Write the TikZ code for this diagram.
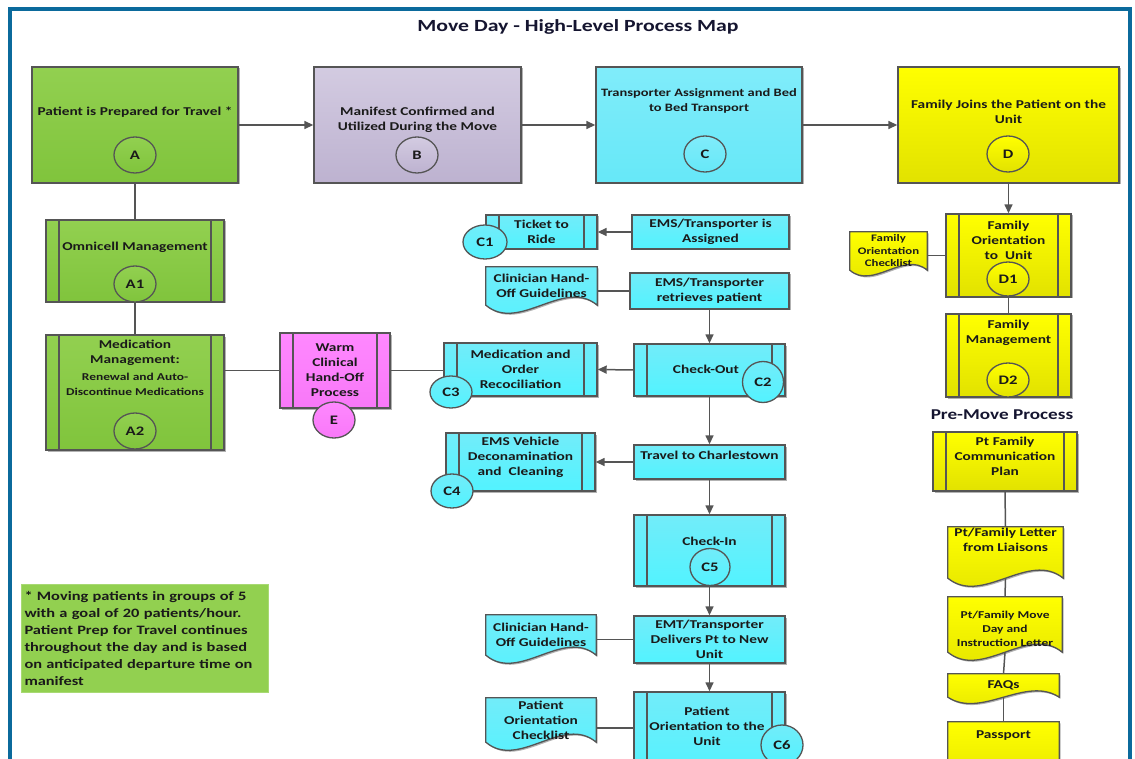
\documentclass[tikz,border=0pt]{standalone}
\usepackage{fontspec}
\setmainfont{Carlito}[FakeStretch=1.28]
\usetikzlibrary{shapes.geometric,arrows.meta,calc,shadows}
\pgfdeclarelayer{bg}
\pgfsetlayers{bg,main}
\definecolor{frameblue}{HTML}{0B6A9C}
\definecolor{lnk}{HTML}{555555}
\definecolor{txt}{HTML}{1A1A1A}
\definecolor{ttl}{HTML}{151530}
\definecolor{grn}{HTML}{92D050}
\definecolor{grnd}{HTML}{80C43C}
\definecolor{lav}{HTML}{D3CBE1}
\definecolor{lavd}{HTML}{BDB2D0}
\definecolor{cyl}{HTML}{80ECFA}
\definecolor{cyld}{HTML}{66E8F8}
\definecolor{cys}{HTML}{72ECF9}
\definecolor{cysd}{HTML}{52F3FF}
\definecolor{yel}{HTML}{FFFF00}
\definecolor{yeld}{HTML}{E2E200}
\definecolor{pnk}{HTML}{FF88FF}
\definecolor{pnkd}{HTML}{F878F8}
\newcommand\mainf{\fontsize{12}{15}\selectfont\bfseries}
\newcommand\smallf{\fontsize{10.5}{15}\selectfont\bfseries}
\newcommand\tinyf{\fontsize{10}{12.5}\selectfont\bfseries}
\newcommand\circf{\fontsize{13}{15}\selectfont\bfseries}
\tikzset{
 shd/.style={drop shadow={shadow xshift=1.5pt,shadow yshift=-1.5pt,opacity=0.3,fill=black}},
 ln/.style={draw=lnk,line width=1.5pt},
 arr/.style={ln,-{Triangle[length=9pt,width=8pt]}},
 bx/.style={draw=lnk,line width=1.4pt,rectangle,inner sep=1pt,align=center,text=txt,font=\mainf,shd},
 wh/.style 2 args={minimum width=#1pt,minimum height=#2pt},
 pp/.style={path picture={\draw[lnk,line width=1.2pt]
   ([xshift=13pt]path picture bounding box.north west) -- ([xshift=13pt]path picture bounding box.south west)
   ([xshift=-13pt]path picture bounding box.north east) -- ([xshift=-13pt]path picture bounding box.south east);}},
 circ/.style={ellipse,draw=lnk,line width=1.3pt,inner sep=0pt,font=\circf,text=txt},
 tx/.style={align=center,text=txt,font=\mainf,inner sep=0pt},
 doc/.style={rectangle,inner sep=0pt,align=center,text=txt,font=\mainf},
 fgrn/.style={top color=grn,bottom color=grnd},
 flav/.style={top color=lav,bottom color=lavd},
 fcyl/.style={top color=cyl,bottom color=cyld},
 fcys/.style={top color=cys,bottom color=cysd},
 fyel/.style={top color=yel,bottom color=yeld},
 fpnk/.style={top color=pnk,bottom color=pnkd},
}
\newcommand\docshape[3]{%
 \begin{pgfonlayer}{bg}
 \draw[draw=lnk,line width=1.3pt,#2,shd] (#1.north west) -- (#1.north east) -- (#1.south east)
   .. controls ($(#1.south east)!0.3!(#1.south west)+(0,-#3)$) and ($(#1.south east)!0.7!(#1.south west)+(0,#3)$) .. (#1.south west) -- cycle;
 \end{pgfonlayer}}
\begin{document}
\begin{tikzpicture}[x=1pt,y=-1pt]
\begin{pgfonlayer}{bg}
\fill[white] (0,0) rectangle (1135,759);
\end{pgfonlayer}
\clip (0,0) rectangle (1135,759);
\draw[frameblue,line width=4pt] (10,9) rectangle (1130,820);
\node[font=\fontsize{17}{20}\selectfont\bfseries,text=ttl] (title) at (578,27) {Move Day - High-Level Process Map};

% main row
\node[bx,fgrn,wh={206}{116}] (A) at (135,125) {};
\node[tx] (At) at (135,112) {Patient is Prepared for Travel *};
\node[bx,flav,wh={207}{116}] (B) at (417.5,125) {};
\node[tx] (Bt) at (417.5,119.5) {Manifest Confirmed and\\Utilized During the Move};
\node[bx,fcyl,wh={206}{116}] (C) at (699,125) {};
\node[tx,font=\fontsize{11.3}{15}\selectfont\bfseries] (Ct) at (699,100.5) {Transporter Assignment and Bed\\to Bed Transport};
\node[bx,fyel,wh={221}{116}] (D) at (1008.5,125) {};
\node[tx] (Dt) at (1008.5,111.5) {Family Joins the Patient on the\\Unit};

% left column
\node[bx,pp,fgrn,wh={178}{82}] (A1) at (135,261) {};
\node[tx] (A1t) at (135,247) {Omnicell Management};
\node[bx,pp,fgrn,wh={178}{115}] (A2) at (135,392.5) {};
\node[tx] (A2t) at (135,353) {Medication\\Management:};
\node[tx,font=\smallf] (A2s) at (135,384.5) {Renewal and Auto-\\Discontinue Medications};
\node[bx,pp,fpnk,wh={110}{75}] (E) at (335,370.5) {Warm\\Clinical\\Hand-Off\\Process};

% middle column
\node[bx,fcys,wh={157}{34}] (EA) at (710.5,232) {EMS/Transporter is\\Assigned};
\node[bx,pp,fcys,wh={111}{34}] (TR) at (541.5,232) {Ticket to\\Ride};
\node[doc,wh={111}{38}] (CG1) at (541.5,286) {Clinician Hand-\\Off Guidelines};
\docshape{CG1}{fcys}{28}
\node[bx,fcys,wh={159}{36}] (RP) at (709.5,291) {EMS/Transporter\\retrieves patient};
\node[bx,pp,fcys,wh={151}{52}] (CO) at (709.5,370) {};
\node[tx] (COt) at (706,369) {Check-Out};
\node[bx,pp,fcys,wh={153}{53}] (MO) at (520.5,369.5) {Medication and\\Order\\Recociliation};
\node[bx,fcys,wh={151}{34}] (TC) at (709.5,462) {};
\node[tx] (TCt) at (709.5,455) {Travel to Charlestown};
\node[bx,pp,fcys,wh={149}{58}] (EV) at (520.5,462) {};
\node[tx] (EVt) at (520.5,457.5) {EMS Vehicle\\Deconamination\\and\ \ Cleaning};
\node[bx,pp,fcys,wh={151}{71}] (CI) at (709.5,550.5) {};
\node[tx] (CIt) at (709.5,541) {Check-In};
\node[bx,fcys,wh={151}{47}] (EMT) at (709.5,639.5) {EMT/Transporter\\Delivers Pt to New\\Unit};
\node[doc,wh={110}{40}] (CG2) at (541,635) {Clinician Hand-\\Off Guidelines};
\docshape{CG2}{fcys}{28}
\node[bx,pp,fcys,wh={151}{88}] (PO) at (709.5,736) {};
\node[tx] (POt) at (707,726) {Patient\\Orientation to the\\Unit};
\node[doc,wh={110}{44}] (POC) at (541,720) {Patient\\Orientation\\Checklist};
\docshape{POC}{fcys}{28}

% right column
\node[bx,pp,fyel,wh={125}{83}] (D1) at (1008.5,255.5) {};
\node[tx] (D1t) at (1008.5,240.5) {Family\\Orientation\\to\ \ Unit};
\node[doc,font=\tinyf,wh={77}{38}] (FC) at (888.5,251) {Family\\Orientation\\Checklist};
\docshape{FC}{fyel}{20}
\node[bx,pp,fyel,wh={125}{83}] (D2) at (1008.5,355.5) {};
\node[tx] (D2t) at (1008.5,332.5) {Family\\Management};
\node[font=\fontsize{15}{18}\selectfont\bfseries,text=ttl] (PM) at (1002,415) {Pre-Move Process};
\node[bx,pp,fyel,wh={144}{59}] (PF) at (1005,461.5) {};
\node[tx] (PFt) at (1005,456) {Pt Family\\Communication\\Plan};
\node[doc,wh={115}{51}] (L1) at (1005.5,552.5) {};
\docshape{L1}{fyel}{28}
\node[tx] (L1t) at (1005.5,539.5) {Pt/Family Letter\\from Liaisons};
\node[doc,wh={114}{55}] (L2) at (1005,624.5) {};
\docshape{L2}{fyel}{28}
\node[tx,font=\fontsize{10.5}{14}\selectfont\bfseries] (L2t) at (1005,629) {Pt/Family Move\\Day and\\Instruction Letter};
\node[doc,wh={111}{23}] (FQ) at (1003.5,685.5) {FAQs};
\docshape{FQ}{fyel}{22}
\node[doc,wh={111}{48}] (PS) at (1003.5,746) {};
\docshape{PS}{fyel}{24}
\node[tx] (PSt) at (1003.5,736) {Passport};

% note
\node[fill=grn,draw=grn!80!white,line width=0.6pt,wh={247}{108},text width=240pt,align=left,inner sep=3pt,
  font=\fontsize{12.8}{17}\selectfont\bfseries,text=txt] (N) at (144.5,638)
  {* Moving patients in groups of 5\\with a goal of 20 patients/hour.\\Patient Prep for Travel continues\\throughout the day and is based\\on anticipated departure time on\\manifest};

% connectors
\draw[arr] (A.east) -- (B.west);
\draw[arr] (B.east) -- (C.west);
\draw[arr] (C.east) -- (D.west);
\draw[ln] (A.south) -- (A1.north);
\draw[ln] (A1.south) -- (A2.north);
\draw[ln] (E.west -| A2.east) -- (E.west);
\draw[ln] (E.east) -- (E.east -| MO.west);
\draw[arr] (EA.west) -- (TR.east);
\draw[ln] (RP.west -| CG1.east) -- (RP.west);
\draw[arr] (RP.south) -- (CO.north);
\draw[arr] (CO.west) -- (MO.east);
\draw[arr] (CO.south) -- (TC.north);
\draw[arr] (TC.west) -- (EV.east);
\draw[arr] (TC.south) -- (CI.north);
\draw[arr] (CI.south) -- (EMT.north);
\draw[ln] (EMT.west -| CG2.east) -- (EMT.west);
\draw[arr] (EMT.south) -- (PO.north);
\coordinate (POa) at ($(PO.west)+(0,-8)$);
\draw[ln] (POa -| POC.east) -- (POa);
\draw[arr] (D.south) -- (D1.north);
\draw[ln] (D1.west -| FC.east) -- (D1.west);
\draw[ln] (D1.south) -- (D2.north);
\draw[ln] (PF.south) -- (L1.north);
\draw[ln] (L1.south) -- (L2.north);
\draw[ln] (L2.south) -- (FQ.north);
\draw[ln] (FQ.south) -- (PS.north);

% circles
\node[circ,fgrn,minimum width=42pt,minimum height=36pt] (cA) at (135,155) {A};
\node[circ,flav,minimum width=42pt,minimum height=36pt] (cB) at (417,155) {B};
\node[circ,fcyl,minimum width=42pt,minimum height=36pt] (cC) at (705,154) {C};
\node[circ,fyel,minimum width=42pt,minimum height=36pt] (cD) at (1008,154) {D};
\node[circ,fgrn,minimum width=42pt,minimum height=36pt] (cA1) at (135,284) {A1};
\node[circ,fgrn,minimum width=42pt,minimum height=36pt] (cA2) at (135,431) {A2};
\node[circ,fpnk,minimum width=42pt,minimum height=36pt] (cE) at (334,420) {E};
\node[circ,fcys,minimum width=44pt,minimum height=34pt] (cC1) at (485,242) {C1};
\node[circ,fcys,minimum width=41pt,minimum height=41pt] (cC2) at (763,382) {C2};
\node[circ,fcys,minimum width=42pt,minimum height=32pt] (cC3) at (451,392) {C3};
\node[circ,fcys,minimum width=42pt,minimum height=34pt] (cC4) at (452,491) {C4};
\node[circ,fcys,minimum width=40pt,minimum height=37pt] (cC5) at (710,567) {C5};
\node[circ,fcys,minimum width=42pt,minimum height=40pt] (cC6) at (782,745) {C6};
\node[circ,fyel,minimum width=42pt,minimum height=34pt] (cD1) at (1008,279) {D1};
\node[circ,fyel,minimum width=42pt,minimum height=34pt] (cD2) at (1008,380) {D2};
\end{tikzpicture}
\end{document}
